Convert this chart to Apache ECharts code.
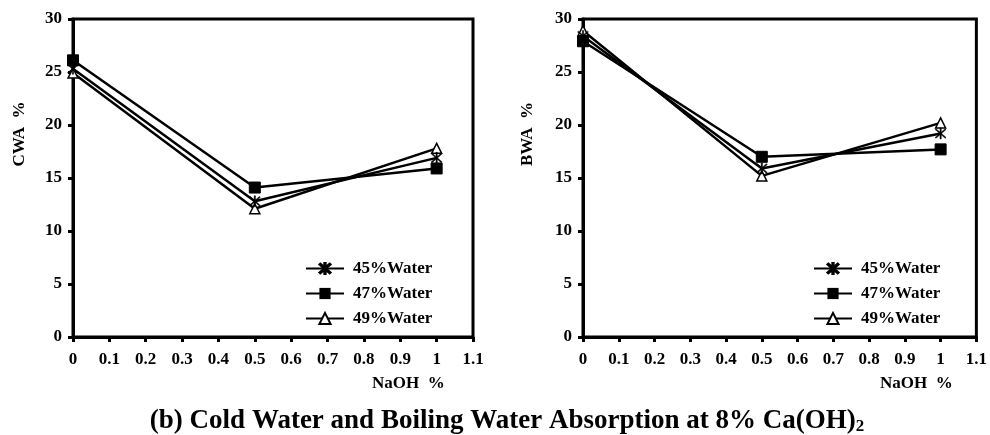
<!DOCTYPE html>
<html>
<head>
<meta charset="utf-8">
<script src="https://cdn.jsdelivr.net/npm/echarts@6/dist/echarts.min.js"></script>
<style>html,body{margin:0;padding:0;background:#fff}#c{width:990px;height:435px}</style>
</head>
<body>
<div id="c"></div>
<script>
// ---- data ----
const naoh = [0, 0.5, 1];
const seriesNames = ['45%Water', '47%Water', '49%Water'];
const cwa45 = [25.3, 12.8, 16.9];
const cwa47 = [26.1, 14.1, 15.9];
const cwa49 = [24.9, 12.1, 17.8];
const bwa45 = [28.4, 15.9, 19.2];
const bwa47 = [27.9, 17.0, 17.7];
const bwa49 = [28.9, 15.2, 20.2];
const leftYName = 'CWA  %';
const rightYName = 'BWA  %';
const xName = 'NaOH  %';

const FONT = "'Liberation Serif','Times New Roman',serif";
const starPath = 'path://M9,0L11,0L11,20L9,20Z M2.7,1.3L18.7,17.3L17.3,18.7L1.3,2.7Z M17.3,1.3L18.7,2.7L2.7,18.7L1.3,17.3Z';
const symbols = [
  {symbol: starPath, symbolSize: 11, itemStyle: {color: '#000', borderColor: '#000', borderWidth: 0.5}},
  {symbol: 'rect', symbolSize: 11, itemStyle: {color: '#000', borderColor: '#000'}},
  {symbol: 'triangle', symbolSize: 10, itemStyle: {color: '#fff', borderColor: '#000', borderWidth: 1.5}}
];

function pairs(vals) { return naoh.map((x, i) => [x, vals[i]]); }

function mkSeries(idx, vals, axisIdx) {
  const s = symbols[idx];
  return {
    name: seriesNames[idx], type: 'line',
    xAxisIndex: axisIdx, yAxisIndex: axisIdx,
    data: pairs(vals),
    symbol: s.symbol, symbolSize: s.symbolSize,
    showAllSymbol: true,
    lineStyle: {color: '#000', width: 2.5},
    itemStyle: s.itemStyle,
    animation: false, z: 3 - idx + 2
  };
}

const grids = [
  {left: 73, top: 19, width: 400, height: 318},
  {left: 583, top: 19, width: 398, height: 318}
];

function xAxis(gi) {
  return {
    type: 'value', gridIndex: gi, min: 0, max: 1.1, interval: 0.1,
    axisLine: {show: true, onZero: false, lineStyle: {color: '#000', width: 3}},
    axisTick: {show: true, inside: false, length: 5, lineStyle: {color: '#000', width: 3}},
    axisLabel: {margin: 14, color: '#000', fontFamily: FONT, fontWeight: 'bold', fontSize: 17,
      formatter: v => String(+v.toFixed(1))},
    splitLine: {show: false}
  };
}
function yAxis(gi) {
  return {
    type: 'value', gridIndex: gi, min: 0, max: 30, interval: 5,
    axisLine: {show: true, onZero: false, lineStyle: {color: '#000', width: 3}},
    axisTick: {show: true, inside: false, length: 5, lineStyle: {color: '#000', width: 3}},
    axisLabel: {margin: 11, color: '#000', fontFamily: FONT, fontWeight: 'bold', fontSize: 17},
    splitLine: {show: false}
  };
}
function legend(left) {
  return {
    orient: 'vertical', left: left, top: 255, itemGap: 8, itemWidth: 38, itemHeight: 14,
    data: seriesNames, selectedMode: false,
    textStyle: {color: '#000', fontFamily: FONT, fontWeight: 'bold', fontSize: 17, padding: [0, 0, 0, 4]}
  };
}
function yName(x, text) {
  return {type: 'text', x: x, y: 134, rotation: Math.PI / 2,
    style: {text: text, fill: '#000', font: "bold 17px 'Liberation Serif', serif", align: 'center', verticalAlign: 'middle'}};
}

const chart = echarts.init(document.getElementById('c'), null, {renderer: 'canvas'});
chart.setOption({
  backgroundColor: '#fff',
  animation: false,
  title: {
    text: '(b) Cold Water and Boiling Water Absorption at 8% Ca(OH){sub|2}',
    left: 502, textAlign: 'center', top: 403,
    textStyle: {color: '#000', fontFamily: FONT, fontWeight: 'bold', fontSize: 27,
      rich: {sub: {fontFamily: FONT, fontWeight: 'bold', fontSize: 17, color: '#000', padding: [10, 0, 0, 0]}}}
  },
  grid: grids.map(g => Object.assign({show: true, borderColor: '#000', borderWidth: 3, backgroundColor: 'transparent'}, g)),
  xAxis: [xAxis(0), xAxis(1)],
  yAxis: [yAxis(0), yAxis(1)],
  legend: [legend(300), legend(808)],
  graphic: [
    yName(20, leftYName),
    yName(528, rightYName),
    {type: 'text', left: 372, top: 375, style: {text: xName, fill: '#000', font: "bold 17px 'Liberation Serif', serif"}},
    {type: 'text', left: 880, top: 375, style: {text: xName, fill: '#000', font: "bold 17px 'Liberation Serif', serif"}}
  ],
  series: [
    mkSeries(0, cwa45, 0), mkSeries(1, cwa47, 0), mkSeries(2, cwa49, 0),
    mkSeries(0, bwa45, 1), mkSeries(1, bwa47, 1), mkSeries(2, bwa49, 1)
  ]
});
</script>
</body>
</html>
